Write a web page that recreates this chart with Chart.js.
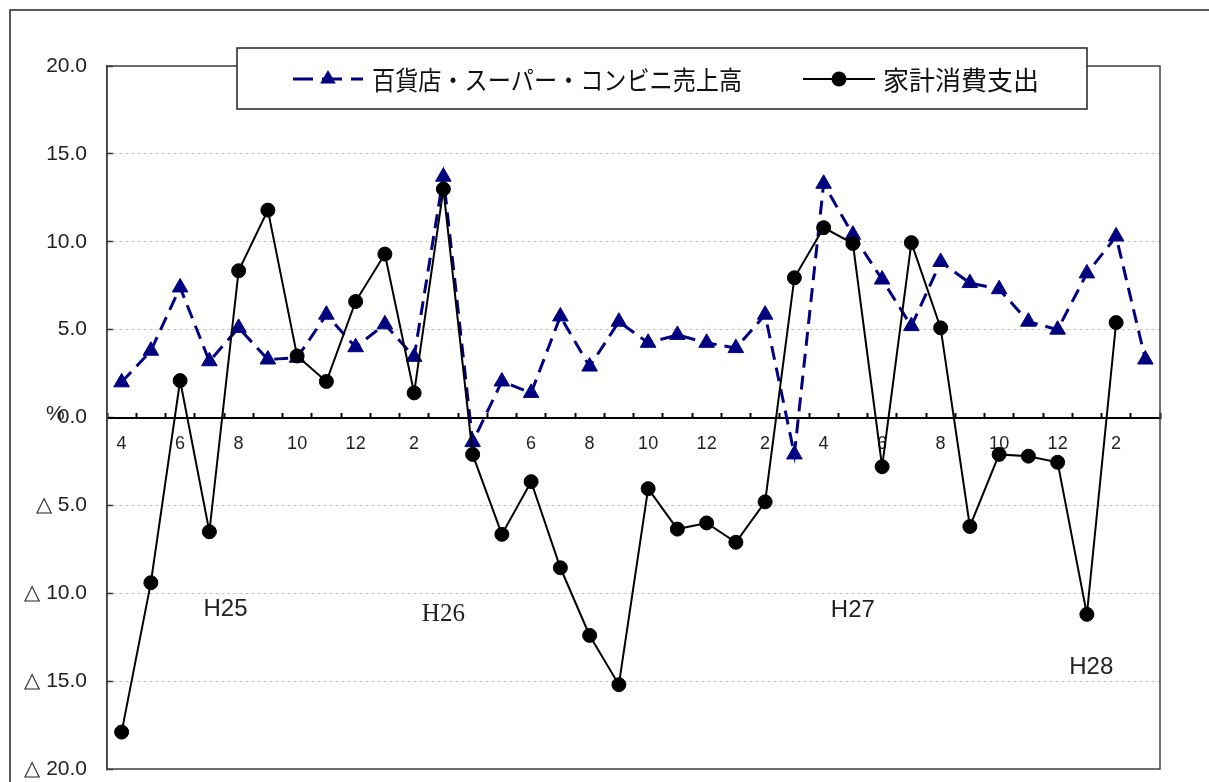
<!DOCTYPE html>
<html>
<head>
<meta charset="utf-8">
<script src="https://cdn.jsdelivr.net/npm/chart.js@4.4.0/dist/chart.umd.min.js"></script>
<style>
  html, body { margin: 0; padding: 0; background: #fff; }
</style>
</head>
<body>
<canvas id="myChart" width="1209" height="782"></canvas>
<script>
// months H25/4 .. H28/3
var months = ["4","5","6","7","8","9","10","11","12","1","2","3",
              "4","5","6","7","8","9","10","11","12","1","2","3",
              "4","5","6","7","8","9","10","11","12","1","2","3"];
var salesLabel = "百貨店・スーパー・コンビニ売上高";
var spendLabel = "家計消費支出";
var salesValues = [2.0, 3.8, 7.4, 3.2, 5.1, 3.3, 3.4, 5.85, 4.0, 5.3, 3.45, 13.7,
                   -1.4, 2.05, 1.4, 5.75, 2.9, 5.45, 4.25, 4.7, 4.25, 3.95, 5.85, -2.1,
                   13.3, 10.4, 7.85, 5.2, 8.85, 7.65, 7.3, 5.45, 5.0, 8.2, 10.3, 3.3];
var spendValues = [-17.9, -9.4, 2.1, -6.5, 8.35, 11.8, 3.5, 2.05, 6.6, 9.3, 1.4, 13.0,
                   -2.1, -6.65, -3.65, -8.55, -12.4, -15.2, -4.05, -6.35, -6.0, -7.1, -4.8, 7.95,
                   10.8, 9.9, -2.8, 9.95, 5.1, -6.2, -2.1, -2.2, -2.55, -11.2, 5.4, null];
var yMin = -20, yMax = 20, yStep = 5;

var navy = "#000080";

// frame, outer border and year labels
var decor = {
  id: "decor",
  beforeDatasetsDraw: function (chart) {
    var ctx = chart.ctx, a = chart.chartArea;
    ctx.save();
    ctx.strokeStyle = "#404040";
    ctx.lineWidth = 1.5;
    ctx.strokeRect(a.left, a.top, a.right - a.left, a.bottom - a.top);
    ctx.restore();
  },
  afterDraw: function (chart) {
    var ctx = chart.ctx;
    var x = chart.scales.x, y = chart.scales.y;
    ctx.save();
    // outer border
    ctx.strokeStyle = "#222";
    ctx.lineWidth = 1.5;
    ctx.beginPath();
    ctx.moveTo(10, 782);
    ctx.lineTo(10, 10);
    ctx.lineTo(1209, 10);
    ctx.stroke();

    // % unit
    ctx.fillStyle = "#222";
    ctx.font = '21px "Liberation Sans"';
    ctx.textAlign = "left";
    ctx.textBaseline = "alphabetic";
    ctx.fillText("%", 46, y.getPixelForValue(0) + 2);

    // year labels
    var years = [
      { t: "H25", i: 3.55, v: -10.9, f: '24px "Liberation Sans"' },
      { t: "H26", i: 11, v: -11.2, f: '25px "Liberation Serif"' },
      { t: "H27", i: 25, v: -10.95, f: '24px "Liberation Sans"' },
      { t: "H28", i: 33.15, v: -14.2, f: '24px "Liberation Sans"' }
    ];
    ctx.textAlign = "center";
    ctx.textBaseline = "middle";
    years.forEach(function (yr) {
      ctx.font = yr.f;
      ctx.fillText(yr.t, x.getPixelForValue(yr.i), y.getPixelForValue(yr.v));
    });

    // legend box
    ctx.fillStyle = "#fff";
    ctx.fillRect(237, 48, 850, 61);
    ctx.strokeStyle = "#222";
    ctx.lineWidth = 1.5;
    ctx.strokeRect(237, 48, 850, 61);
    var ly = 79;
    // item 1
    ctx.strokeStyle = navy;
    ctx.lineWidth = 3;
    ctx.setLineDash([20, 9]);
    ctx.beginPath();
    ctx.moveTo(293, ly);
    ctx.lineTo(363, ly);
    ctx.stroke();
    ctx.setLineDash([]);
    ctx.fillStyle = navy;
    ctx.beginPath();
    var r = 9;
    ctx.moveTo(328, ly - r);
    ctx.lineTo(328 + r * 0.866, ly + r / 2);
    ctx.lineTo(328 - r * 0.866, ly + r / 2);
    ctx.closePath();
    ctx.fill();
    // item 2
    ctx.strokeStyle = "#000";
    ctx.lineWidth = 2;
    ctx.beginPath();
    ctx.moveTo(803, ly);
    ctx.lineTo(875, ly);
    ctx.stroke();
    ctx.fillStyle = "#000";
    ctx.beginPath();
    ctx.arc(839, ly, 7.5, 0, Math.PI * 2);
    ctx.fill();
    // texts
    ctx.fillStyle = "#111";
    ctx.font = '26px "Noto Sans CJK JP"';
    ctx.textAlign = "left";
    ctx.textBaseline = "middle";
    ctx.fillText(salesLabel, 372, ly + 1, 370);
    ctx.fillText(spendLabel, 883, ly + 1, 156);
    ctx.restore();
  }
};

new Chart("myChart", {
  type: "line",
  data: {
    labels: months,
    datasets: [{
      label: spendLabel,
      data: spendValues,
      order: 0,
      borderColor: "#000",
      backgroundColor: "#000",
      borderWidth: 2,
      pointStyle: "circle",
      pointRadius: 7,
      pointBorderWidth: 1,
      tension: 0,
      spanGaps: false
    }, {
      label: salesLabel,
      data: salesValues,
      order: 1,
      borderColor: navy,
      backgroundColor: navy,
      borderWidth: 3,
      borderDash: [14, 8],
      pointStyle: "triangle",
      pointRadius: 9,
      pointBorderWidth: 1,
      tension: 0
    }]
  },
  options: {
    responsive: false,
    animation: false,
    events: [],
    layout: { padding: { top: 66, right: 49, bottom: 13, left: 0 } },
    plugins: {
      legend: { display: false },
      title: { display: false },
      tooltip: { enabled: false }
    },
    scales: {
      x: {
        type: "category",
        position: { y: 0 },
        offset: true,
        afterFit: function (scale) {
          scale.height = 0;
          scale.paddingTop = 0; scale.paddingBottom = 0;
          scale.paddingLeft = 0; scale.paddingRight = 0;
        },
        grid: {
          display: true,
          drawOnChartArea: false,
          drawTicks: true,
          offset: true,
          tickLength: -6,
          tickWidth: 2,
          tickColor: "#000"
        },
        border: { display: true, color: "#000", width: 2 },
        ticks: {
          autoSkip: false,
          maxRotation: 0,
          padding: 22,
          color: "#222",
          font: { family: "Liberation Sans", size: 18 },
          callback: function (val, index) {
            return index % 2 === 0 ? this.getLabelForValue(val) : "";
          }
        }
      },
      y: {
        min: yMin,
        max: yMax,
        afterFit: function (scale) {
          scale.width = 107;
          scale.paddingTop = 0; scale.paddingBottom = 0;
        },
        grid: {
          color: "#c4c4c4",
          lineWidth: 1,
          drawTicks: true,
          tickLength: -6,
          tickColor: "#333",
          tickWidth: 1.5
        },
        border: { display: true, color: "#404040", width: 1.5, dash: [3, 3] },
        ticks: {
          stepSize: yStep,
          padding: 26,
          color: "#222",
          font: { family: "Liberation Sans", size: 21 },
          callback: function (v) {
            if (v < 0) return "\u25B3 " + Math.abs(v).toFixed(1);
            return v.toFixed(1);
          }
        }
      }
    }
  },
  plugins: [decor]
});
</script>
</body>
</html>
